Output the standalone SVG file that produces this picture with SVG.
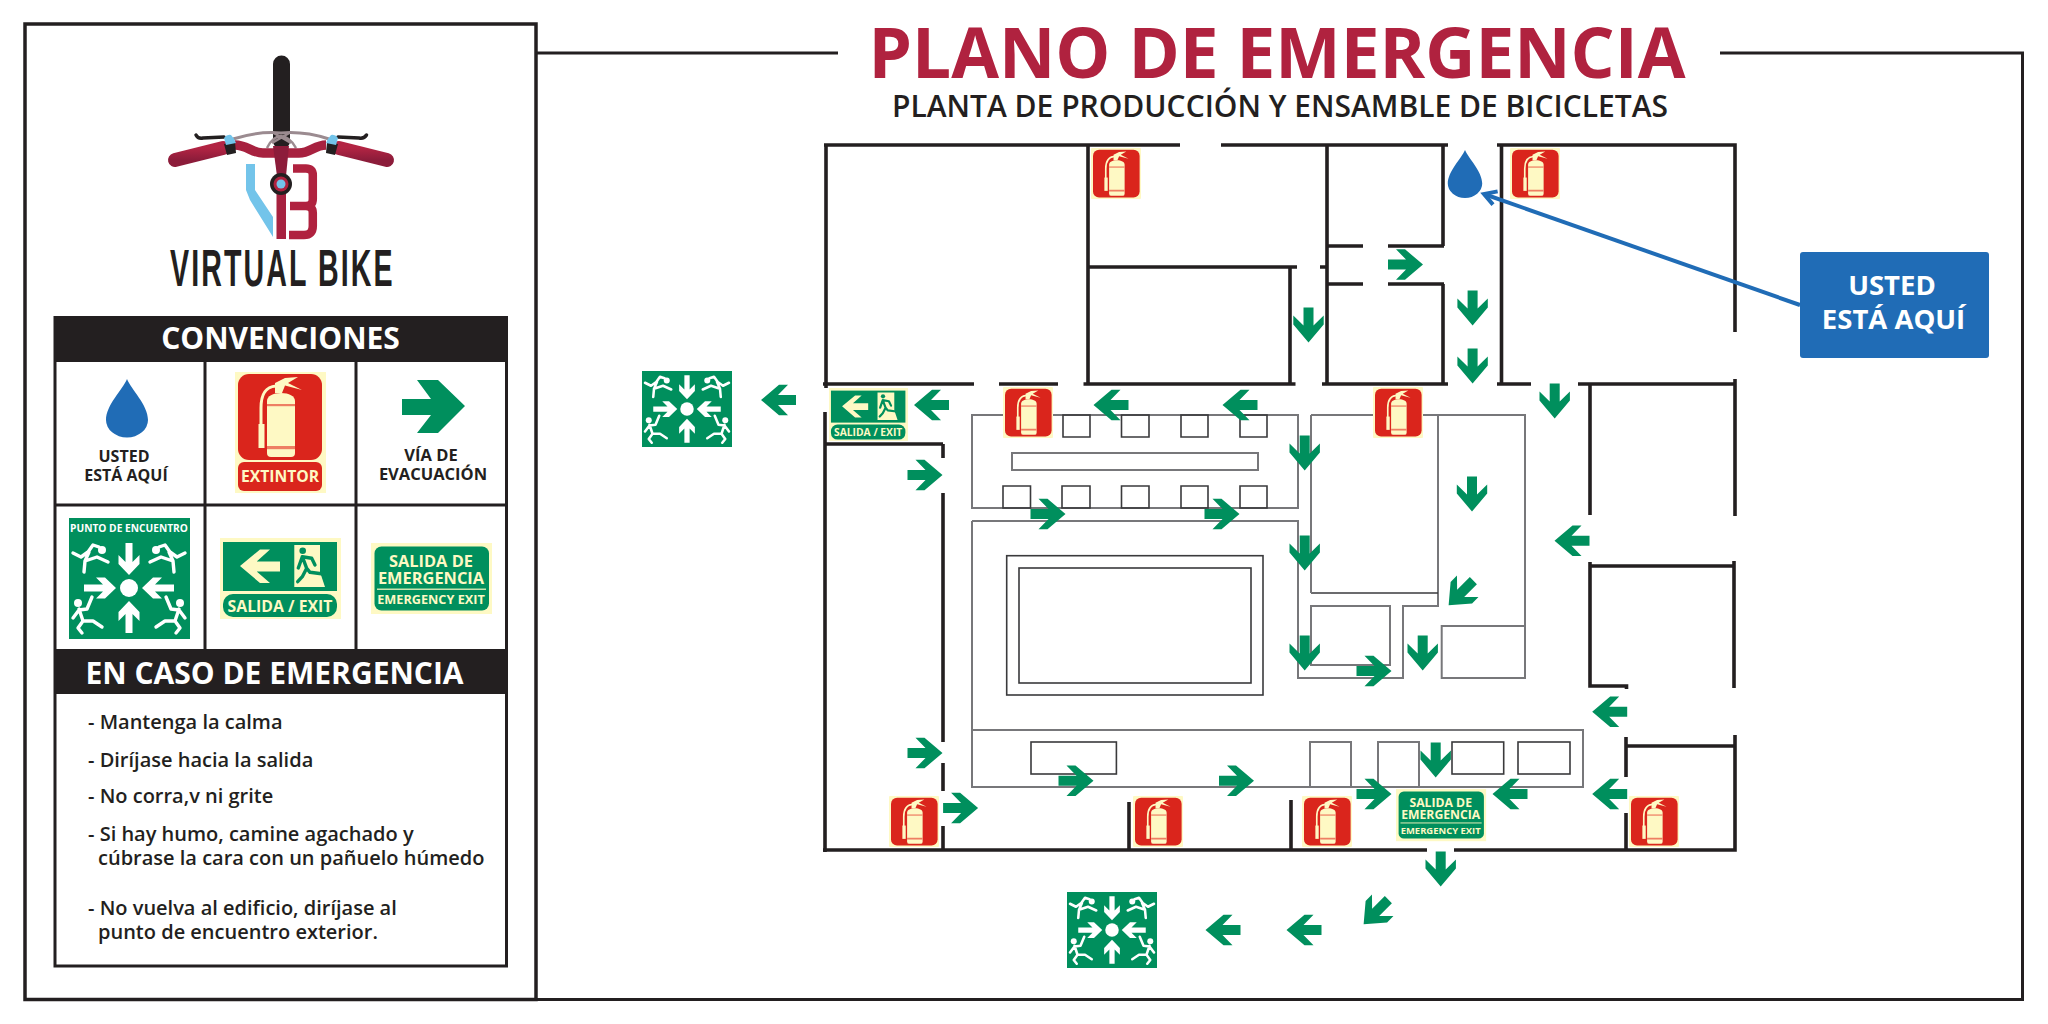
<svg xmlns="http://www.w3.org/2000/svg" xmlns:xlink="http://www.w3.org/1999/xlink" width="2048" height="1024" viewBox="0 0 2048 1024">
<style>
text{font-family:"Open Sans","Noto Sans",sans-serif}
.b{font-weight:700}.s{font-weight:600}.m{text-anchor:middle}
.k{fill:#231f20}.w{fill:#fff}.p{fill:#fef9c4}.g{fill:#008f5d}.r{fill:#da251c}
.wall{fill:none;stroke:#231f20;stroke-width:3.6}
.thin{fill:none;stroke:#77777a;stroke-width:2}
.dk{fill:none;stroke:#3a3a3c;stroke-width:1.6}
.li{font-size:20px;font-weight:600;fill:#231f20}
.fig{fill:none;stroke:#fff;stroke-width:3.4;stroke-linecap:round;stroke-linejoin:round}
.man{fill:none;stroke:#008f5d;stroke-width:3.4;stroke-linecap:round;stroke-linejoin:round}
</style>
<defs>
<path id="ar" class="g" d="M17.5,0L-.5,15.2H-9.5L.5,5H-17.5V-5H.5L-9.5,-15.2H-.5Z"/>
<path id="drop" fill="#206cb6" d="M0,0C4,10 21,26 21,41A21,17.5 0 0 1 -21,41C-21,26 -4,10 0,0Z"/>
<g id="exthead">
<rect class="r" width="84" height="86" rx="11"/>
<path class="p" d="M37,9L47,4L60,3L50,9L64,16L47,11.5L44,19H37Z"/>
<path fill="none" stroke="#fef9c4" stroke-width="3" d="M38,12C26,13 23,22 23,34V52"/>
<rect class="p" x="20.5" y="50" width="6" height="24"/>
<path class="p" d="M29,27C29,22 35,19 43,19C51,19 57,22 57,27V79Q57,83 53,83H33Q29,83 29,79Z"/>
<rect x="29" y="30" width="28" height="2.2" fill="#ee7f63"/>
<rect x="29" y="72" width="28" height="3.2" fill="#ee7f63"/>
</g>
<g id="ext"><rect class="p" width="50" height="51" rx="1"/><use href="#exthead" transform="translate(2,1.8) scale(.555)"/></g>
<path id="wa" class="w" d="M-3.5,-45H3.5V-26L10.5,-33V-24L0,-13L-10.5,-24V-33L-3.5,-26Z"/>
<g id="runner" class="fig"><circle cx="-27" cy="-38" r="4" fill="#fff" stroke="none"/><path d="M-56,-35L-48,-31L-41,-36L-36,-43L-30,-41M-40,-36L-44,-27L-45,-16M-44,-27L-32,-31L-21,-26"/></g>
<g id="faller" class="fig"><circle cx="-51" cy="15" r="4" fill="#fff" stroke="none"/><path d="M-50,21L-46,33L-51,40L-47,45M-46,33L-36,33L-27,39M-50,22L-56,30M-50,22L-42,21L-37,9"/></g>
<g id="meet">
<circle class="w" r="9"/>
<use href="#wa"/><use href="#wa" transform="rotate(90)"/><use href="#wa" transform="rotate(180)"/><use href="#wa" transform="rotate(270)"/>
<use href="#runner"/><use href="#runner" transform="scale(-1,1)"/><use href="#faller"/><use href="#faller" transform="scale(-1,1)"/>
</g>
<g id="exitsign">
<rect class="p" width="121" height="81"/>
<rect class="g" x="3" y="4" width="114" height="49"/>
<rect class="g" x="3" y="56" width="114" height="23" rx="10"/>
<path class="p" d="M20,28L40,11.5H50L36.700,23.500H60V33.500H36.700L50,45H40Z"/>
<path class="p" d="M74.300,7H100V34L105,49H74.300Z"/>
<circle cx="82.700" cy="12.700" r="3.300" fill="#008f5d"/>
<path class="man" d="M78.300,30L82.300,18.700L91.700,20.300L95,27M82.300,18.700L86.700,30.300L82.300,38.700L77.700,43.700M86.700,30.300L90,34.300L103.300,36"/>
<text class="b p m" x="60" y="74" font-size="15.800">SALIDA / EXIT</text>
</g>
<g id="emersign">
<rect class="p" width="121" height="71"/>
<rect class="g" x="3.500" y="3.500" width="114.500" height="64" rx="7"/>
<text class="b p m" x="60" y="24" font-size="16.400">SALIDA DE</text>
<text class="b p m" x="60" y="41" font-size="16.400">EMERGENCIA</text>
<rect class="p" x="6" y="45.600" width="109" height="1.200"/>
<text class="b p m" x="60" y="61" font-size="12.700">EMERGENCY EXIT</text>
</g>
<marker id="open" markerUnits="userSpaceOnUse" markerWidth="22" markerHeight="24" refX="15" refY="12" orient="auto"><path d="M3,5L15,12L3,19" fill="none" stroke="#206cb6" stroke-width="4"/></marker>
<linearGradient id="gr" x1="0" y1="0" x2="0" y2="1"><stop offset="0" stop-color="#b22443"/><stop offset="1" stop-color="#8c1c3a"/></linearGradient>
</defs>
<rect width="2048" height="1024" fill="#fff"/>

<g id="frame" fill="none" stroke="#231f20" stroke-width="3">
<path d="M537,53H838M1720,53H2022.500V999.500H537"/>
</g>

<g id="left-panel">
<rect x="25" y="24" width="511" height="975.500" fill="#fff" stroke="#231f20" stroke-width="3.500"/>
</g>

<g id="logo">
<path d="M281.500,141V64" stroke="#231f20" stroke-width="17" stroke-linecap="round" fill="none"/>
<path d="M233,139Q258,131 281,133Q304,131 329,139" fill="none" stroke="#9b8b90" stroke-width="3"/>
<path d="M267,148Q272,137 281,136Q290,137 296,148M272,132L291,143M291,132L272,143" fill="none" stroke="#9b8b90" stroke-width="2.500"/>
<path d="M196,135Q198,139 203,138L224,137" fill="none" stroke="#231f20" stroke-width="3.500" stroke-linecap="round"/>
<path d="M366.500,135Q364,139 359,138L338,137" fill="none" stroke="#231f20" stroke-width="3.500" stroke-linecap="round"/>
<path d="M235,145C247,145 252,153 263,153H299C310,153 315,145 326,145" fill="none" stroke="#a7213f" stroke-width="9.500"/>
<path d="M175,160L223,148" stroke="url(#gr)" stroke-width="14" stroke-linecap="round" fill="none"/>
<path d="M387,160L339,148" stroke="url(#gr)" stroke-width="14" stroke-linecap="round" fill="none"/>
<path d="M224,144L235,142L236,153L227,155Z" fill="#231f20"/>
<path d="M338,144L327,142L326,153L335,155Z" fill="#231f20"/>
<path d="M224,138Q227,134 231,135Q234,138 236,143L226,145Z" fill="#73c4ea"/>
<path d="M338,138Q335,134 331,135Q328,138 326,143L336,145Z" fill="#73c4ea"/>
<path d="M273,146H289L286,176H277Z" fill="#8c1c3a"/>
<rect x="276.500" y="192" width="9.500" height="47" fill="#a7213f"/>
<path d="M246,164H255V190L273,217V237L250,200L246,190Z" fill="#73c4ea"/>
<path d="M293,168.500H306Q312.800,168.500 312.800,175V199Q312.800,206 306,206H290M306,206Q312.800,206 312.800,213V226Q312.800,235 304,235H289" fill="none" stroke="#b0223f" stroke-width="8.500"/>
<circle cx="281" cy="184" r="11" fill="#231f20"/><circle cx="281" cy="184" r="7.500" fill="#b0223f"/><circle cx="281" cy="184" r="4.500" fill="#73c4ea"/>
<text transform="translate(170,285.500) scale(.55,1)" font-size="52" font-weight="700" letter-spacing="3.800" style="font-family:'Liberation Sans',sans-serif" class="k">VIRTUAL BIKE</text>
</g>

<g id="legend">
<rect x="55" y="317.500" width="451.500" height="648.500" fill="#fff" stroke="#231f20" stroke-width="3"/>
<rect class="k" x="54" y="317.500" width="453" height="44.500"/>
<rect class="k" x="54" y="649" width="453" height="45"/>
<path d="M205,362V649M356,362V649M54,505H507" stroke="#231f20" stroke-width="3" fill="none"/>
<text class="b w m" x="280.500" y="349" font-size="30">CONVENCIONES</text>
<text class="b w m" x="274.500" y="684" font-size="30">EN CASO DE EMERGENCIA</text>
</g>

<g id="leg-here">
<use href="#drop" x="127" y="379"/>
<text class="b k m" x="124" y="462" font-size="16">USTED</text>
<text class="b k m" x="126" y="481" font-size="16">ESTÁ AQUÍ</text>
</g>
<g id="leg-ext">
<rect class="p" x="235" y="372" width="91" height="121"/>
<use href="#exthead" x="238" y="374"/>
<rect class="r" x="238" y="462" width="84" height="29" rx="6"/>
<text class="b p m" x="280" y="482" font-size="15.700">EXTINTOR</text>
</g>
<g id="leg-route">
<path class="g" d="M465,406L438,433H417L431,415H402V399H431L417,380H438Z"/>
<text class="b k m" x="431" y="461" font-size="16.500">VÍA DE</text>
<text class="b k m" x="433" y="480" font-size="16.500">EVACUACIÓN</text>
</g>
<g id="leg-meet">
<rect class="g" x="69" y="518" width="121" height="121"/>
<text class="b w m" x="129" y="532" font-size="10.200">PUNTO DE ENCUENTRO</text>
<use href="#meet" x="129" y="588"/>
</g>
<g id="leg-exit"><use href="#exitsign" x="220" y="538"/></g>
<g id="leg-emer"><use href="#emersign" x="371" y="543"/></g>

<g id="instructions">
<text class="li" x="88" y="729">- Mantenga la calma</text>
<text class="li" x="88" y="767">- Diríjase hacia la salida</text>
<text class="li" x="88" y="803">- No corra,v ni grite</text>
<text class="li" x="88" y="841">- Si hay humo, camine agachado y</text>
<text class="li" x="98" y="865">cúbrase la cara con un pañuelo húmedo</text>
<text class="li" x="88" y="915">- No vuelva al edificio, diríjase al</text>
<text class="li" x="98" y="939">punto de encuentro exterior.</text>
</g>

<g id="title">
<text class="b m" x="1277" y="78" font-size="69.300" fill="#b0223f">PLANO DE EMERGENCIA</text>
<text class="s m k" x="1280" y="117" font-size="30">PLANTA DE PRODUCCIÓN Y ENSAMBLE DE BICICLETAS</text>
</g>

<g id="machines">
<path class="thin" d="M972,415H1298V508H972Z"/>
<path class="dk" d="M1063,415h27v22h-27zM1121.500,415h27.500v22h-27.500zM1181,415h27v22h-27zM1240,415h27v22h-27z"/>
<path class="dk" d="M1003,486h27.500v22h-27.500zM1062,486h28v22h-28zM1121.500,486h27.500v22h-27.500zM1181,486h27v22h-27zM1240,486h27v22h-27z"/>
<rect class="thin" x="1012" y="453" width="246" height="17"/>
<path class="thin" d="M972,521H1298V678H1403V606H1438V415H1525V678H1441.700V626H1525"/>
<path class="thin" d="M972,521V787M1311,415H1438"/>
<path class="dk" d="M1311,593H1438"/>
<path class="thin" d="M1311,415V593"/>
<path class="thin" d="M1311,606H1390V665H1311Z"/>
<rect class="dk" x="1006.700" y="555.700" width="256.300" height="139.300"/>
<rect class="dk" x="1019" y="568" width="232" height="115"/>
<rect class="thin" x="972" y="730" width="611" height="57"/>
<rect class="dk" x="1031" y="742" width="85.400" height="32"/>
<rect class="thin" x="1310" y="742" width="41" height="45"/>
<rect class="thin" x="1378" y="742" width="41" height="45"/>
<rect class="dk" x="1452" y="742" width="51.700" height="32"/>
<rect class="dk" x="1518" y="742" width="52" height="32"/>
</g>

<g id="walls">
<path class="wall" d="M824,145H1180M1221,145H1448M1497,145H1735V332"/>
<path class="wall" d="M826,145V388M825,412V852"/>
<path class="wall" d="M823,850H1427M1454,850H1735V735"/>
<path class="wall" d="M823,384H974M999,384H1058M1083.500,384H1295.500M1322,384H1448M1497,384H1531M1578,384H1735"/>
<path class="wall" d="M1088,145V384M1088,267H1297M1320,267H1328M1290,267V384M1327,145V384"/>
<path class="wall" d="M1327,246H1363M1388,246H1444M1327,284H1363M1388,284H1444M1443,145V246M1443,284V384M1501.500,145V384"/>
<path class="wall" d="M1735,379V516M1734,561V688"/>
<path class="wall" d="M1590,384V515M1590,562V686H1626.500V689M1590,566H1734"/>
<path class="wall" d="M1626,737V777M1626,813V850M1626,746H1734"/>
<path class="wall" d="M825,444H943M943,444V458M943,493V742M943,763V791M943,826V850M1129,802V850M1291,800V850"/>
</g>

<g id="route-arrows">
<use href="#ar" transform="translate(778.500,400) rotate(180)"/>
<use href="#ar" transform="translate(931.500,405) rotate(180)"/>
<use href="#ar" transform="translate(925,475)"/>
<use href="#ar" transform="translate(1048,514)"/>
<use href="#ar" transform="translate(1111,405) rotate(180)"/>
<use href="#ar" transform="translate(1240,405) rotate(180)"/>
<use href="#ar" transform="translate(1222,514)"/>
<use href="#ar" transform="translate(1308.500,325) rotate(90)"/>
<use href="#ar" transform="translate(1405.500,264.500)"/>
<use href="#ar" transform="translate(1472.600,308) rotate(90)"/>
<use href="#ar" transform="translate(1472.600,366) rotate(90)"/>
<use href="#ar" transform="translate(1554.700,401) rotate(90)"/>
<use href="#ar" transform="translate(1304.700,453) rotate(90)"/>
<use href="#ar" transform="translate(1472,494) rotate(90)"/>
<use href="#ar" transform="translate(1304.700,553) rotate(90)"/>
<use href="#ar" transform="translate(1304.700,653) rotate(90)"/>
<use href="#ar" transform="translate(1422.700,653) rotate(90)"/>
<use href="#ar" transform="translate(1374,671)"/>
<use href="#ar" transform="translate(1461,593) rotate(135)"/>
<use href="#ar" transform="translate(1572,540.700) rotate(180)"/>
<use href="#ar" transform="translate(925,753)"/>
<use href="#ar" transform="translate(960.600,808)"/>
<use href="#ar" transform="translate(1076,780.700)"/>
<use href="#ar" transform="translate(1236.500,780.700)"/>
<use href="#ar" transform="translate(1374,794)"/>
<use href="#ar" transform="translate(1223,930) rotate(180)"/>
<use href="#ar" transform="translate(1304,930) rotate(180)"/>
<use href="#ar" transform="translate(1376,912) rotate(135)"/>
<use href="#ar" transform="translate(1609.700,711.700) rotate(180)"/>
<use href="#ar" transform="translate(1609.700,794) rotate(180)"/>
<use href="#ar" transform="translate(1510,794) rotate(180)"/>
<use href="#ar" transform="translate(1435.700,760) rotate(90)"/>
<use href="#ar" transform="translate(1440.700,869) rotate(90)"/>
</g>

<g id="extinguishers">
<use href="#ext" x="1091" y="148"/>
<use href="#ext" x="1003" y="387"/>
<use href="#ext" x="1373" y="387"/>
<use href="#ext" x="1510" y="148"/>
<use href="#ext" x="889" y="796"/>
<use href="#ext" x="1133" y="796"/>
<use href="#ext" x="1302" y="796"/>
<use href="#ext" x="1629" y="796"/>
</g>
<g id="exit-small"><use href="#exitsign" transform="translate(829,388) scale(.653)"/></g>
<g id="emer-small"><use href="#emersign" transform="translate(1396,789) scale(.745,.735)"/></g>
<g id="meet-a"><rect class="g" x="642" y="371" width="90" height="76"/><use href="#meet" transform="translate(687,409) scale(.75)"/></g>
<g id="meet-b"><rect class="g" x="1067" y="892" width="90" height="76"/><use href="#meet" transform="translate(1112,930) scale(.75)"/></g>

<g id="connectors"><path d="M1800,305L1484,194" fill="none" stroke="#206cb6" stroke-width="4" marker-end="url(#open)"/></g>
<g id="you-here">
<use href="#drop" transform="translate(1465,150) scale(.82)"/>
<rect x="1800" y="252" width="189" height="106" rx="3" fill="#206cb6"/>
<text class="b w m" x="1892" y="295" font-size="27.500">USTED</text>
<text class="b w m" x="1893.500" y="329" font-size="27.500">ESTÁ AQUÍ</text>
</g>
</svg>
